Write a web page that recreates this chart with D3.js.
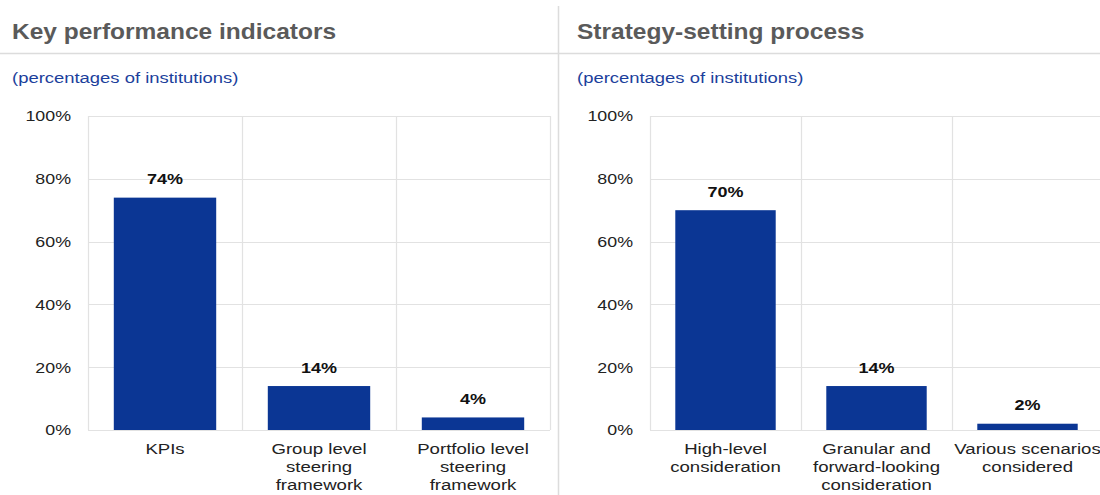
<!DOCTYPE html>
<html>
<head>
<meta charset="utf-8">
<script src="https://cdn.jsdelivr.net/npm/d3@7"></script>
<style>
  html, body { margin: 0; padding: 0; background: #fff; }
  svg { display: block; font-family: Arial, "Liberation Sans", Helvetica, sans-serif; }
</style>
</head>
<body>
<svg id="chart" width="1100" height="495"></svg>
<script>
// Panel titles and subtitle
const panelTitles = ["Key performance indicators", "Strategy-setting process"];
const subtitle = "(percentages of institutions)";

// Left panel: key performance indicators
const kpiCategories = [
  ["KPIs"],
  ["Group level", "steering", "framework"],
  ["Portfolio level", "steering", "framework"]
];
const kpiValues = [74, 14, 4];

// Right panel: strategy-setting process
const strategyCategories = [
  ["High-level", "consideration"],
  ["Granular and", "forward-looking", "consideration"],
  ["Various scenarios", "considered"]
];
const strategyValues = [70, 14, 2];

// Y axis ticks (percent)
const yTicks = [0, 20, 40, 60, 80, 100];

const svg = d3.select("#chart");
const barColor = "#0b3694";
const gridColor = "#e2e2e2";

// Place a text element at (x, y) with a slightly widened glyph set
function placeText(sel, x, y, sx) {
  sel.attr("x", 0).attr("y", 0)
    .attr("transform", `translate(${x},${y}) scale(${sx},1)`);
}

// Header rule and panel separator
svg.append("line").attr("x1", 0).attr("x2", 1100).attr("y1", 53.5).attr("y2", 53.5)
  .attr("stroke", "#dcdcdc").attr("stroke-width", 1.5);
svg.append("line").attr("x1", 558.5).attr("x2", 558.5).attr("y1", 6).attr("y2", 495)
  .attr("stroke", "#dcdcdc").attr("stroke-width", 1.5);

const panels = [
  { title: panelTitles[0], cats: kpiCategories, vals: kpiValues, textX: 12, plotL: 88, plotR: 550, tickX: 71 },
  { title: panelTitles[1], cats: strategyCategories, vals: strategyValues, textX: 577, plotL: 650, plotR: 1103, tickX: 633 }
];

const plotTop = 116, plotBottom = 430;

panels.forEach(p => {
  const g = svg.append("g");

  g.append("text")
    .attr("font-size", 22.5).attr("font-weight", "bold").attr("fill", "#5a5a5a")
    .text(p.title)
    .call(placeText, p.textX, 39, 1.09);

  g.append("text")
    .attr("font-size", 15.5).attr("fill", "#1c3f9c")
    .text(subtitle)
    .call(placeText, p.textX, 83, 1.19);

  const x = d3.scaleBand()
    .domain(p.cats.map((c, i) => i))
    .range([p.plotL, p.plotR])
    .paddingInner(0).paddingOuter(0);

  const y = d3.scaleLinear().domain([0, 100]).range([plotBottom, plotTop]);

  // Horizontal gridlines
  g.append("g").selectAll("line").data(yTicks).join("line")
    .attr("x1", p.plotL).attr("x2", p.plotR)
    .attr("y1", d => Math.round(y(d)) + 0.5).attr("y2", d => Math.round(y(d)) + 0.5)
    .attr("stroke", gridColor).attr("stroke-width", 1.2);

  // Vertical gridlines at category boundaries
  const bounds = x.domain().map(i => x(i)).concat([p.plotR]);
  g.append("g").selectAll("line").data(bounds).join("line")
    .attr("x1", d => Math.round(d) + 0.5).attr("x2", d => Math.round(d) + 0.5)
    .attr("y1", plotTop).attr("y2", plotBottom)
    .attr("stroke", gridColor).attr("stroke-width", 1.2);

  // Y axis labels
  const yAxis = d3.axisLeft(y).tickValues(yTicks).tickFormat(d => d + "%").tickSize(0).tickPadding(0);
  const ya = g.append("g").attr("transform", `translate(${p.tickX},0)`).call(yAxis);
  ya.select(".domain").remove();
  ya.selectAll("text").attr("font-size", 15.5).attr("fill", "#222")
    .attr("font-family", "Arial, 'Liberation Sans', sans-serif")
    .attr("transform", "scale(1.15,1)");

  // Bars
  const bw = x.bandwidth() * 0.665;
  g.append("g").selectAll("rect").data(p.vals).join("rect")
    .attr("x", (d, i) => x(i) + (x.bandwidth() - bw) / 2)
    .attr("width", bw)
    .attr("y", d => y(d))
    .attr("height", d => y(0) - y(d))
    .attr("fill", barColor);

  // Value labels
  g.append("g").selectAll("text").data(p.vals).join("text")
    .attr("text-anchor", "middle")
    .attr("font-size", 15).attr("font-weight", "bold").attr("fill", "#111")
    .text(d => d + "%")
    .each(function (d, i) {
      d3.select(this).call(placeText, x(i) + x.bandwidth() / 2, y(d) - 13.5, 1.2);
    });

  // Category labels (multi-line)
  const cl = g.append("g").selectAll("text").data(p.cats).join("text")
    .attr("text-anchor", "middle")
    .attr("font-size", 15.5).attr("fill", "#222")
    .each(function (d, i) {
      d3.select(this).call(placeText, x(i) + x.bandwidth() / 2, 454, 1.2);
    });
  cl.selectAll("tspan").data(d => d).join("tspan")
    .attr("x", 0)
    .attr("dy", (d, j) => j === 0 ? 0 : 18)
    .text(d => d);
});
</script>
</body>
</html>
